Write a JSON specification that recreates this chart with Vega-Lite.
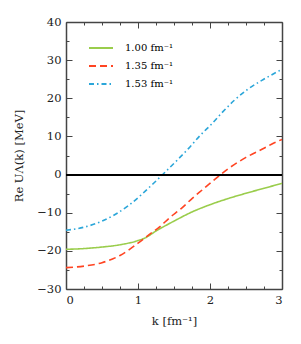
{
  "$schema": "https://vega.github.io/schema/vega-lite/v6.json",
  "width": 216,
  "height": 267,
  "autosize": {"type": "none"},
  "padding": {"left": 66, "top": 22, "right": 19, "bottom": 55},
  "background": "white",
  "config": {
    "font": "DejaVu Serif",
    "view": {"stroke": null},
    "axis": {"grid": false, "domainColor": "#444", "domainWidth": 1.5, "tickColor": "#444", "tickWidth": 1, "labelFont": "DejaVu Serif", "titleFont": "DejaVu Serif", "labelFontSize": 11.5, "titleFontSize": 11.5, "labelColor": "#222", "titleColor": "#222", "titleFontWeight": "normal"},
    "legend": {"labelFont": "DejaVu Serif"}
  },
  "data": {"values": [
    {"k": 0, "u": -19.6, "s": "1.00 fm⁻¹"},
    {"k": 0.25, "u": -19.4, "s": "1.00 fm⁻¹"},
    {"k": 0.5, "u": -19.0, "s": "1.00 fm⁻¹"},
    {"k": 0.75, "u": -18.4, "s": "1.00 fm⁻¹"},
    {"k": 1.0, "u": -17.3, "s": "1.00 fm⁻¹"},
    {"k": 1.1, "u": -16.6, "s": "1.00 fm⁻¹"},
    {"k": 1.25, "u": -14.8, "s": "1.00 fm⁻¹"},
    {"k": 1.5, "u": -12.2, "s": "1.00 fm⁻¹"},
    {"k": 1.75, "u": -9.8, "s": "1.00 fm⁻¹"},
    {"k": 2.0, "u": -7.9, "s": "1.00 fm⁻¹"},
    {"k": 2.25, "u": -6.3, "s": "1.00 fm⁻¹"},
    {"k": 2.5, "u": -4.9, "s": "1.00 fm⁻¹"},
    {"k": 2.75, "u": -3.6, "s": "1.00 fm⁻¹"},
    {"k": 3.0, "u": -2.3, "s": "1.00 fm⁻¹"},
    {"k": 0, "u": -24.4, "s": "1.35 fm⁻¹"},
    {"k": 0.25, "u": -24.0, "s": "1.35 fm⁻¹"},
    {"k": 0.5, "u": -23.1, "s": "1.35 fm⁻¹"},
    {"k": 0.75, "u": -21.2, "s": "1.35 fm⁻¹"},
    {"k": 1.0, "u": -18.0, "s": "1.35 fm⁻¹"},
    {"k": 1.15, "u": -15.8, "s": "1.35 fm⁻¹"},
    {"k": 1.3, "u": -13.7, "s": "1.35 fm⁻¹"},
    {"k": 1.44, "u": -11.3, "s": "1.35 fm⁻¹"},
    {"k": 1.6, "u": -8.9, "s": "1.35 fm⁻¹"},
    {"k": 1.75, "u": -6.3, "s": "1.35 fm⁻¹"},
    {"k": 1.9, "u": -3.9, "s": "1.35 fm⁻¹"},
    {"k": 2.05, "u": -1.5, "s": "1.35 fm⁻¹"},
    {"k": 2.25, "u": 1.5, "s": "1.35 fm⁻¹"},
    {"k": 2.5, "u": 4.5, "s": "1.35 fm⁻¹"},
    {"k": 2.75, "u": 6.9, "s": "1.35 fm⁻¹"},
    {"k": 2.88, "u": 8.2, "s": "1.35 fm⁻¹"},
    {"k": 3.0, "u": 9.2, "s": "1.35 fm⁻¹"},
    {"k": 0, "u": -14.6, "s": "1.53 fm⁻¹"},
    {"k": 0.25, "u": -13.8, "s": "1.53 fm⁻¹"},
    {"k": 0.5, "u": -12.2, "s": "1.53 fm⁻¹"},
    {"k": 0.67, "u": -10.6, "s": "1.53 fm⁻¹"},
    {"k": 0.87, "u": -8.1, "s": "1.53 fm⁻¹"},
    {"k": 1.04, "u": -5.4, "s": "1.53 fm⁻¹"},
    {"k": 1.21, "u": -2.4, "s": "1.53 fm⁻¹"},
    {"k": 1.375, "u": 0.6, "s": "1.53 fm⁻¹"},
    {"k": 1.54, "u": 3.7, "s": "1.53 fm⁻¹"},
    {"k": 1.7, "u": 6.8, "s": "1.53 fm⁻¹"},
    {"k": 1.86, "u": 10.2, "s": "1.53 fm⁻¹"},
    {"k": 2.02, "u": 13.2, "s": "1.53 fm⁻¹"},
    {"k": 2.18, "u": 16.5, "s": "1.53 fm⁻¹"},
    {"k": 2.34, "u": 19.5, "s": "1.53 fm⁻¹"},
    {"k": 2.52, "u": 22.3, "s": "1.53 fm⁻¹"},
    {"k": 2.72, "u": 24.7, "s": "1.53 fm⁻¹"},
    {"k": 2.92, "u": 26.8, "s": "1.53 fm⁻¹"},
    {"k": 3.0, "u": 27.6, "s": "1.53 fm⁻¹"}
  ]},
  "resolve": {"axis": {"x": "independent", "y": "independent"}},
  "layer": [
    {
      "mark": {"type": "line", "strokeWidth": 1.6, "interpolate": "monotone"},
      "encoding": {
        "x": {"field": "k", "type": "quantitative", "scale": {"domain": [0, 3], "nice": false},
              "axis": {"orient": "bottom", "values": [0, 1, 2, 3], "tickSize": -6, "labelPadding": 11, "title": "k [fm⁻¹]", "titlePadding": 10, "format": "d"}},
        "y": {"field": "u", "type": "quantitative", "scale": {"domain": [-30, 40], "nice": false},
              "axis": {"orient": "left", "values": [-30, -20, -10, 0, 10, 20, 30, 40], "tickSize": -6, "labelPadding": 11, "title": "Re UΛ(k) [MeV]", "titlePadding": 12, "format": "d"}},
        "color": {"field": "s", "type": "nominal",
                  "scale": {"domain": ["1.00 fm⁻¹", "1.35 fm⁻¹", "1.53 fm⁻¹"], "range": ["#9acd4c", "#ff4422", "#2ba6d9"]},
                  "legend": {"orient": "none", "legendX": 22, "legendY": 13, "title": null, "symbolType": "stroke", "symbolSize": 576, "symbolStrokeWidth": 2, "labelFontSize": 10, "labelOffset": 11, "rowPadding": -6, "labelFont": "DejaVu Serif"}},
        "strokeDash": {"field": "s", "type": "nominal",
                  "scale": {"domain": ["1.00 fm⁻¹", "1.35 fm⁻¹", "1.53 fm⁻¹"], "range": [[1, 0], [7, 4], [5, 3, 1.5, 3]]},
                  "legend": {"orient": "none", "legendX": 22, "legendY": 13, "title": null, "symbolType": "stroke", "symbolSize": 576, "symbolStrokeWidth": 2, "labelFontSize": 10, "labelOffset": 11, "rowPadding": -6, "labelFont": "DejaVu Serif"}}
      }
    },
    {
      "mark": {"type": "rule", "color": "black", "strokeWidth": 1.2},
      "encoding": {
        "y": {"datum": 0, "type": "quantitative", "scale": {"domain": [-30, 40], "nice": false},
              "axis": {"orient": "right", "values": [-30, -20, -10, 0, 10, 20, 30, 40], "tickSize": -6, "labels": false, "title": null}}
      }
    },
    {
      "mark": {"type": "point", "opacity": 0},
      "encoding": {
        "x": {"field": "k", "type": "quantitative", "scale": {"domain": [0, 3], "nice": false},
              "axis": {"orient": "top", "values": [0, 1, 2, 3], "tickSize": -6, "labels": false, "title": null}},
        "y": {"field": "u", "type": "quantitative", "scale": {"domain": [-30, 40], "nice": false},
              "axis": {"orient": "left", "values": [-25, -15, -5, 5, 15, 25, 35], "tickSize": -3, "labels": false, "title": null, "domain": false}}
      }
    },
    {
      "mark": {"type": "point", "opacity": 0},
      "encoding": {
        "x": {"field": "k", "type": "quantitative", "scale": {"domain": [0, 3], "nice": false},
              "axis": {"orient": "bottom", "values": [0.25, 0.5, 0.75, 1.25, 1.5, 1.75, 2.25, 2.5, 2.75], "tickSize": -3, "labels": false, "title": null, "domain": false}},
        "y": {"field": "u", "type": "quantitative", "scale": {"domain": [-30, 40], "nice": false},
              "axis": {"orient": "right", "values": [-25, -15, -5, 5, 15, 25, 35], "tickSize": -3, "labels": false, "title": null, "domain": false}}
      }
    },
    {
      "mark": {"type": "point", "opacity": 0},
      "encoding": {
        "x": {"field": "k", "type": "quantitative", "scale": {"domain": [0, 3], "nice": false},
              "axis": {"orient": "top", "values": [0.25, 0.5, 0.75, 1.25, 1.5, 1.75, 2.25, 2.5, 2.75], "tickSize": -3, "labels": false, "title": null, "domain": false}}
      }
    }
  ]
}
